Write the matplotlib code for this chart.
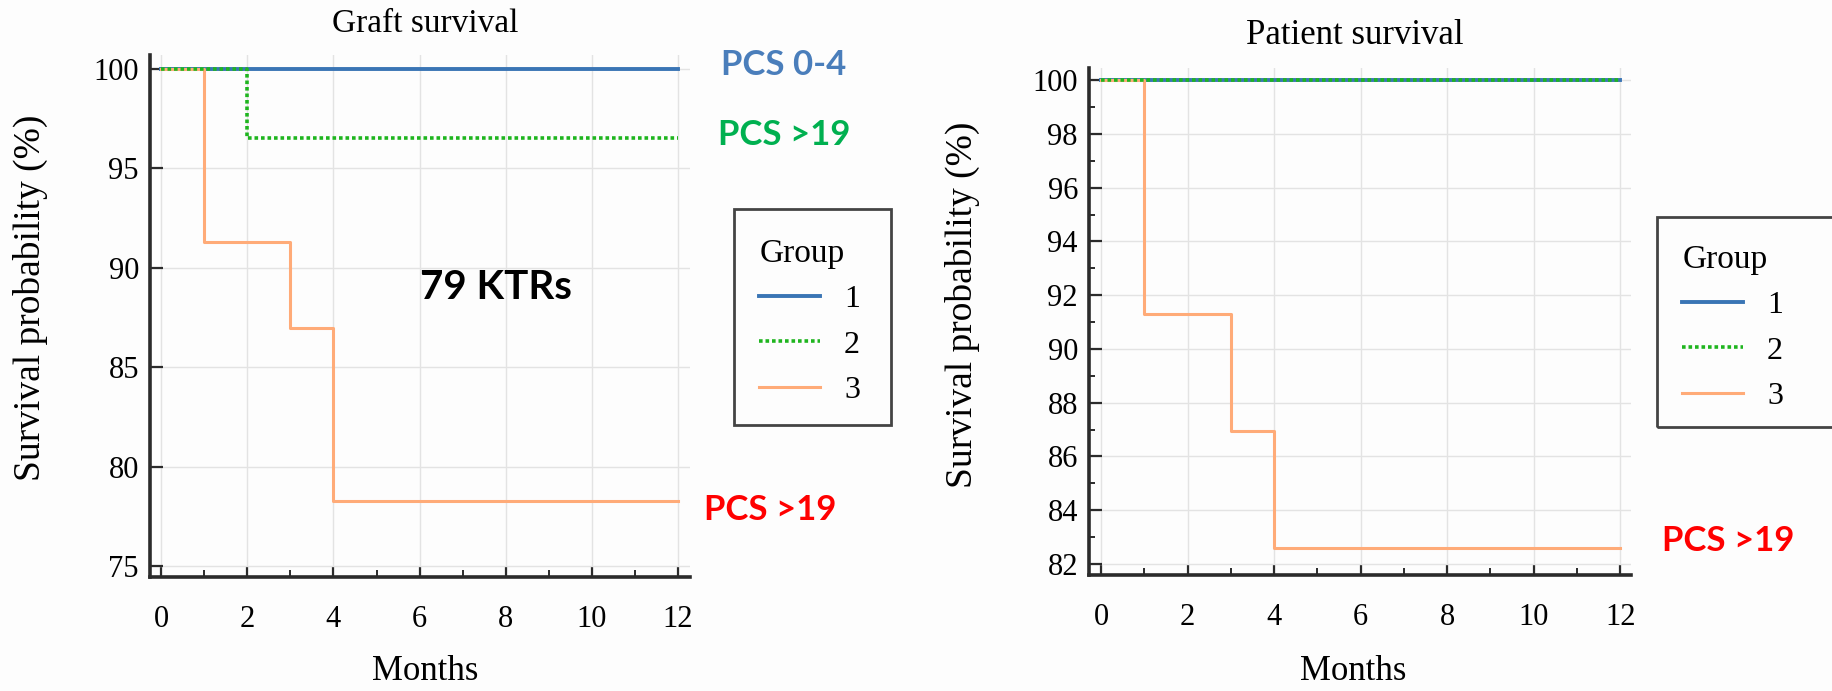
import matplotlib
matplotlib.use("Agg")
import matplotlib.pyplot as plt
from matplotlib.patches import Rectangle
from matplotlib.ticker import MultipleLocator

# ---------------- data ----------------
groups = ["1", "2", "3"]
graft_g1_t = [0, 12]
graft_g1_s = [100, 100]
graft_g2_t = [0, 2, 12]
graft_g2_s = [100, 96.55, 96.55]
graft_g3_t = [0, 1, 3, 4, 12]
graft_g3_s = [100, 91.30, 86.96, 78.26, 78.26]

pat_g1_t = [0, 12]
pat_g1_s = [100, 100]
pat_g2_t = [0, 12]
pat_g2_s = [100, 100]
pat_g3_t = [0, 1, 3, 4, 12]
pat_g3_s = [100, 91.30, 86.96, 82.61, 82.61]

graft_yticks = [75, 80, 85, 90, 95, 100]
pat_yticks = [82, 84, 86, 88, 90, 92, 94, 96, 98, 100]
xticks = [0, 2, 4, 6, 8, 10, 12]

# ---------------- style ----------------
W, H = 1833, 691
fig = plt.figure(figsize=(W / 100, H / 100), dpi=100, facecolor="#fdfdfd")
SERIF = ["Liberation Serif", "DejaVu Serif"]
SANS = ["Lato", "DejaVu Sans"]

C_BLUE = "#3a75b5"
C_GREEN = "#1fb51f"
C_ORANGE = "#ffab78"
SPINE = "#2b2b2b"


def fx(px):
    return px / W


def fy(py):
    return 1 - py / H


def make_axes(x0, x1, ytop, ybot):
    return fig.add_axes([fx(x0), fy(ybot), fx(x1) - fx(x0), (ybot - ytop) / H])


def style_axes(ax, yticks, xlim, ylim, yminor=None):
    ax.set_facecolor("#fdfdfd")
    ax.set_xlim(*xlim)
    ax.set_ylim(*ylim)
    ax.set_xticks(xticks)
    ax.set_yticks(yticks)
    ax.xaxis.set_minor_locator(MultipleLocator(1))
    if yminor:
        ax.yaxis.set_minor_locator(MultipleLocator(yminor))
    for s in ["top", "right"]:
        ax.spines[s].set_visible(False)
    for s in ["left", "bottom"]:
        ax.spines[s].set_color(SPINE)
        ax.spines[s].set_linewidth(2.6)
    ax.grid(True, which="major", color="#e3e3e3", linewidth=1.0)
    ax.set_axisbelow(True)
    ax.tick_params(axis="x", which="major", direction="in", length=8, width=1.6,
                   color=SPINE, pad=20, labelsize=22)
    ax.tick_params(axis="x", which="minor", direction="in", length=5, width=1.4,
                   color=SPINE)
    ax.tick_params(axis="y", which="major", direction="in", length=9, width=1.6,
                   color=SPINE, pad=8, labelsize=22)
    ax.tick_params(axis="y", which="minor", direction="in", length=4, width=1.4,
                   color=SPINE)
    for lab in ax.get_xticklabels() + ax.get_yticklabels():
        lab.set_family(SERIF)


def draw_curves(ax, t1, s1, t2, s2, t3, s3):
    l1, = ax.step(t1, s1, where="post", color=C_BLUE, linewidth=2.8, label=groups[0])
    l3, = ax.step(t3, s3, where="post", color=C_ORANGE, linewidth=2.2, label=groups[2])
    l2, = ax.step(t2, s2, where="post", color=C_GREEN, linewidth=2.6,
                  linestyle=(0, (1, 0.8)), label=groups[1])
    return [l1, l2, l3]


def add_legend(ax, handles, x_left, y_top, box):
    leg = fig.legend(handles=handles, labels=groups, title="Group",
                     loc="upper left", bbox_to_anchor=(fx(x_left), fy(y_top)),
                     frameon=False, prop={"family": SERIF, "size": 23},
                     title_fontproperties={"family": SERIF, "size": 24},
                     alignment="left", handlelength=1.9, handletextpad=0.75,
                     labelspacing=0.5, borderpad=0.2)
    bx0, by0, bx1, by1 = box
    fig.add_artist(Rectangle((fx(bx0), fy(by1)), fx(bx1) - fx(bx0), (by1 - by0) / H,
                             transform=fig.transFigure, fill=False,
                             edgecolor="#444444", linewidth=2.0))
    return leg


# ---------------- left: graft survival ----------------
axL = make_axes(150, 690, 55, 577)
style_axes(axL, graft_yticks, (-0.26, 12.28), (74.45, 100.7))
hL = draw_curves(axL, graft_g1_t, graft_g1_s, graft_g2_t, graft_g2_s,
                 graft_g3_t, graft_g3_s)
fig.text(fx(425), fy(24), "Graft survival", family=SERIF, size=24,
         ha="center", va="center")
axL.set_ylabel("Survival probability (%)", family=SERIF, size=27, va="center")
axL.yaxis.set_label_coords(fx(30), fy(298), transform=fig.transFigure)
axL.set_xlabel("Months", family=SERIF, size=25, va="center")
axL.xaxis.set_label_coords(fx(425), fy(672), transform=fig.transFigure)
add_legend(axL, hL, 737, 216, (734, 209, 891, 425))

fig.text(fx(721), fy(65), "PCS 0-4", family=SANS, weight="bold", size=25,
         color="#4a7ebb", ha="left", va="center")
fig.text(fx(718), fy(135), "PCS >19", family=SANS, weight="bold", size=25,
         color="#00b050", ha="left", va="center")
fig.text(fx(704), fy(510), "PCS >19", family=SANS, weight="bold", size=25,
         color="#ff0000", ha="left", va="center")
fig.text(fx(496), fy(287), "79 KTRs", family=SANS, weight="bold", size=29,
         color="black", ha="center", va="center")

# ---------------- right: patient survival ----------------
axR = make_axes(1089, 1631, 68, 575)
style_axes(axR, pat_yticks, (-0.28, 12.25), (81.59, 100.45), yminor=1)
hR = draw_curves(axR, pat_g1_t, pat_g1_s, pat_g2_t, pat_g2_s, pat_g3_t, pat_g3_s)
fig.text(fx(1355), fy(35), "Patient survival", family=SERIF, size=25,
         ha="center", va="center")
axR.set_ylabel("Survival probability (%)", family=SERIF, size=27, va="center")
axR.yaxis.set_label_coords(fx(962), fy(305), transform=fig.transFigure)
axR.set_xlabel("Months", family=SERIF, size=25, va="center")
axR.xaxis.set_label_coords(fx(1353), fy(672), transform=fig.transFigure)
add_legend(axR, hR, 1660, 222, (1657, 217, 1845, 427))

fig.text(fx(1662), fy(541), "PCS >19", family=SANS, weight="bold", size=25,
         color="#ff0000", ha="left", va="center")

fig.savefig("out.png", dpi=100, facecolor=fig.get_facecolor())
